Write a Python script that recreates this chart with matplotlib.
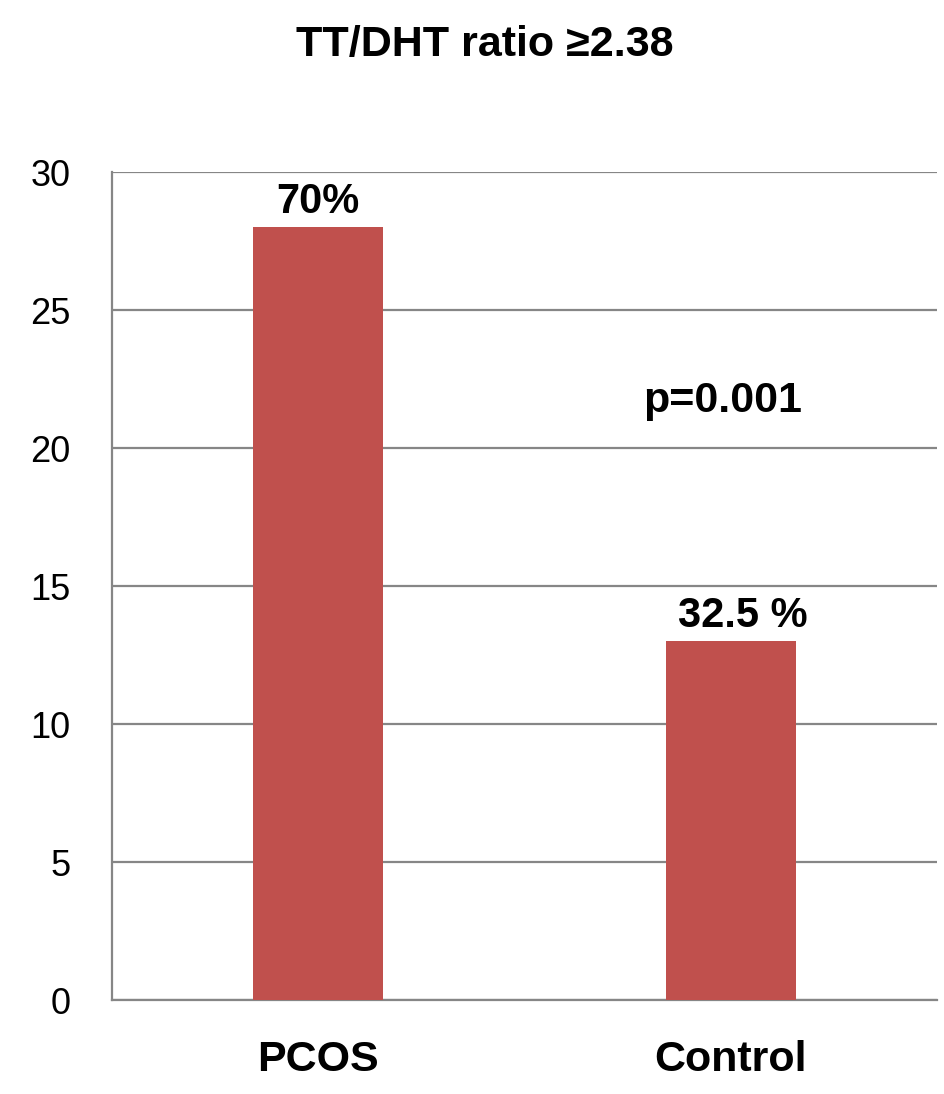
import matplotlib.pyplot as plt

groups = ["PCOS", "Control"]
counts = [28, 13]
pct_labels = ["70%", "32.5 %"]
y_ticks = [0, 5, 10, 15, 20, 25, 30]

fam = "Liberation Sans"

fig = plt.figure(figsize=(9.45, 10.94), dpi=100)
ax = fig.add_axes([112 / 945, 1 - 1000 / 1094, 825 / 945, 828 / 1094])

x = list(range(len(groups)))
ax.bar(x, counts, width=0.315, color="#C0504D", zorder=3)
ax.set_xlim(-0.5, 1.5)
ax.set_ylim(0, 30)
ax.set_yticks(y_ticks)
ax.yaxis.grid(True, color="#868686", linewidth=1.6, zorder=0)

for side in ["top", "right"]:
    ax.spines[side].set_visible(False)
ax.spines["left"].set_color("#868686")
ax.spines["bottom"].set_color("#868686")
ax.spines["left"].set_linewidth(1.6)
ax.spines["bottom"].set_linewidth(1.6)

ax.tick_params(length=0)
ax.tick_params(axis="y", pad=30)
ax.tick_params(axis="x", pad=29)
ax.set_xticks(x)
ax.set_xticklabels(groups, fontsize=31, fontweight="bold", family=fam)
for t in ax.get_yticklabels():
    t.set_fontsize(26)
    t.set_family(fam)

for xi, c, lab in zip(x, counts, pct_labels):
    off = 0 if xi == 0 else 0.03
    ax.text(xi + off, c + 0.2, lab, ha="center", va="bottom",
            fontsize=30, fontweight="bold", family=fam)

ax.text(1 - 0.02, 21.7, "p=0.001", ha="center", va="center",
        fontsize=31, fontweight="bold", family=fam)

fig.text(485 / 945, 1 - 45 / 1094, "TT/DHT ratio \u22652.38", ha="center", va="center",
         fontsize=31, fontweight="bold", family=[fam, "DejaVu Sans"])

fig.savefig("out.png", dpi=100)
